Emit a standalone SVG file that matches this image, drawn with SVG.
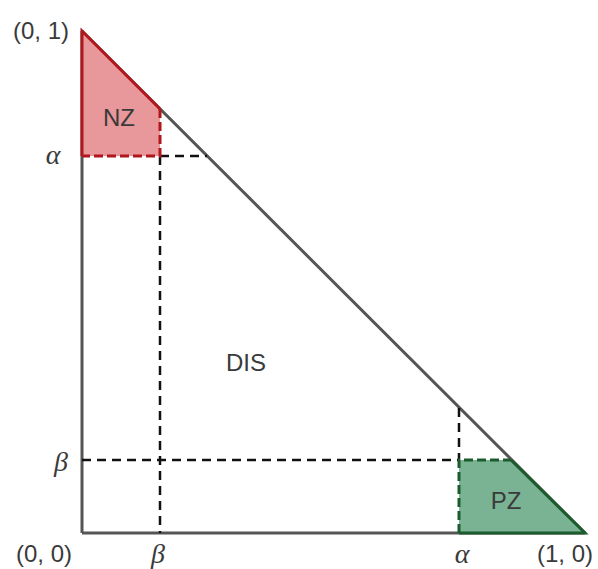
<svg xmlns="http://www.w3.org/2000/svg" width="598" height="569" viewBox="0 0 598 569">
<style>
.lbl{font-family:"Liberation Sans",Arial,sans-serif;font-size:24px;fill:#3a3a3a}
.greek{font-family:"Liberation Serif","DejaVu Serif",serif;font-style:italic;font-size:28px;fill:#3a3a3a}
.dash{stroke:#111;stroke-width:2.5;stroke-dasharray:9 6;fill:none}
</style>
<rect width="598" height="569" fill="#fff"/>
<g id="connectors">
<line x1="82" y1="31" x2="82" y2="533" stroke="#555" stroke-width="3"/>
<line x1="82" y1="533" x2="585" y2="533" stroke="#555" stroke-width="3"/>
<line x1="82" y1="31" x2="585" y2="533" stroke="#555" stroke-width="3"/>
<line class="dash" x1="160" y1="156" x2="207" y2="156"/>
<line class="dash" x1="160" y1="156" x2="160" y2="533"/>
<line class="dash" x1="82" y1="460" x2="459" y2="460"/>
<line class="dash" x1="459" y1="408" x2="459" y2="460"/>
</g>
<g id="NZ">
<polygon points="82,31 160,109 160,156 82,156" fill="#e8979a" stroke="none"/>
<polyline points="82,156 82,31 160,109" fill="none" stroke="#b0161c" stroke-width="3"/>
<polyline points="160,109 160,156 82,156" fill="none" stroke="#b0161c" stroke-width="3" stroke-dasharray="9 4"/>
<text class="lbl" x="119" y="126" text-anchor="middle">NZ</text>
</g>
<g id="PZ">
<polygon points="459,460 511,460 585,533 459,533" fill="#79b394" stroke="none"/>
<polyline points="511,460 585,533 459,533" fill="none" stroke="#1c5b2c" stroke-width="3"/>
<polyline points="459,533 459,460 511,460" fill="none" stroke="#1c5b2c" stroke-width="3" stroke-dasharray="9 4"/>
<text class="lbl" x="506" y="509" text-anchor="middle">PZ</text>
</g>
<g id="DIS">
<text class="lbl" x="246" y="371" text-anchor="middle">DIS</text>
</g>
<g id="labels">
<text class="lbl" x="41" y="39" text-anchor="middle">(0, 1)</text>
<text class="lbl" x="44" y="562" text-anchor="middle">(0, 0)</text>
<text class="lbl" x="565" y="562" text-anchor="middle">(1, 0)</text>
<text class="greek" x="53" y="164" text-anchor="middle">α</text>
<text class="greek" x="61" y="471" text-anchor="middle">β</text>
<text class="greek" x="158" y="563" text-anchor="middle">β</text>
<text class="greek" x="462" y="563" text-anchor="middle">α</text>
</g>
</svg>
